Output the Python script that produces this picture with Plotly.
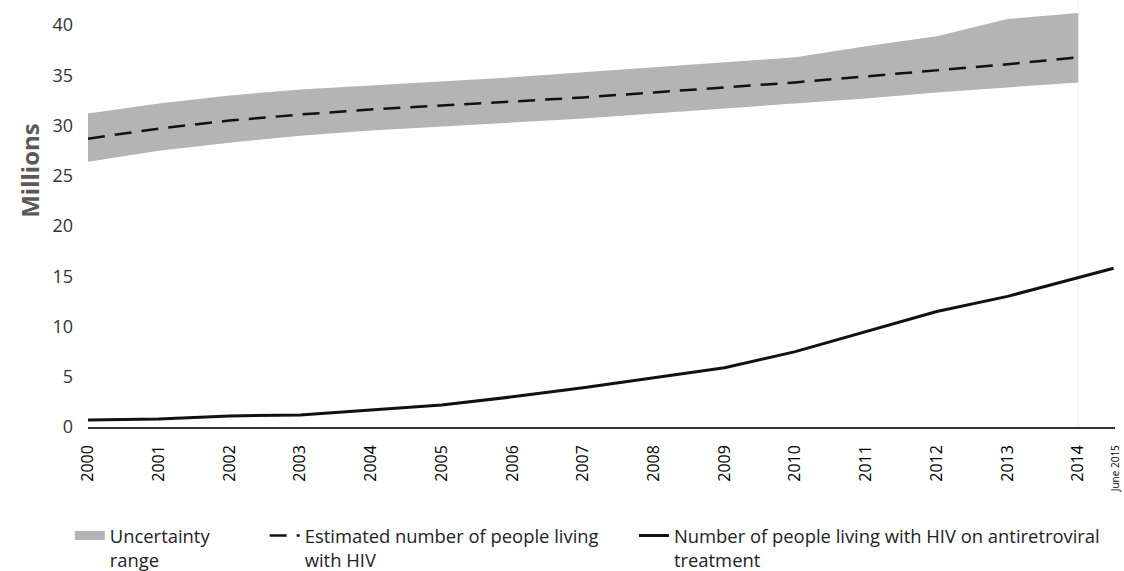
import plotly.graph_objects as go

years = [2000, 2001, 2002, 2003, 2004, 2005, 2006, 2007, 2008, 2009, 2010, 2011, 2012, 2013, 2014]
upper = [31.2, 32.2, 33.0, 33.6, 34.0, 34.4, 34.8, 35.3, 35.8, 36.3, 36.8, 37.9, 38.9, 40.6, 41.2]
estimate = [28.7, 29.7, 30.5, 31.1, 31.6, 32.0, 32.4, 32.8, 33.3, 33.8, 34.3, 34.9, 35.5, 36.1, 36.8]
lower = [26.4, 27.5, 28.3, 29.0, 29.5, 29.9, 30.3, 30.7, 31.2, 31.7, 32.2, 32.7, 33.3, 33.8, 34.3]

art_x = [2000, 2001, 2002, 2003, 2004, 2005, 2006, 2007, 2008, 2009, 2010, 2011, 2012, 2013, 2014, 2014.5]
art = [0.7, 0.8, 1.1, 1.2, 1.7, 2.2, 3.0, 3.9, 4.9, 5.9, 7.5, 9.5, 11.5, 13.0, 14.9, 15.8]

tick_vals = [2000, 2001, 2002, 2003, 2004, 2005, 2006, 2007, 2008, 2009, 2010, 2011, 2012, 2013, 2014, 2014.5]
tick_text = [str(y) for y in range(2000, 2015)] + ["<span style='font-size:10px'>June 2015</span>"]

band_color = "rgb(180,180,180)"

fig = go.Figure()
fig.add_trace(go.Scatter(x=years, y=lower, mode="lines", line=dict(width=0, color=band_color),
                         showlegend=False, hoverinfo="skip"))
fig.add_trace(go.Scatter(x=years, y=upper, mode="lines", line=dict(width=0, color=band_color),
                         fill="tonexty", fillcolor=band_color, showlegend=False, hoverinfo="skip"))
fig.add_trace(go.Scatter(x=years, y=estimate, mode="lines",
                         line=dict(color="#111111", width=2.5, dash="17px,10px"),
                         name="Estimated number of people living<br>with HIV", legend="legend2"))
fig.add_trace(go.Scatter(x=art_x, y=art, mode="lines",
                         line=dict(color="#111111", width=3),
                         name="Number of people living with HIV on antiretroviral<br>treatment", legend="legend3"))
# legend-only entry for the band
fig.add_trace(go.Scatter(x=[None], y=[None], mode="lines",
                         line=dict(color=band_color, width=9),
                         name="Uncertainty<br>range", legend="legend"))

legend_font = dict(family="Open Sans, sans-serif", size=18.4, color="#222222")
common = dict(orientation="h", xref="container", yref="container", yanchor="top",
              y=0.0945, xanchor="left",
              font=legend_font, bgcolor="rgba(0,0,0,0)", itemwidth=30,
              tracegroupgap=0, valign="top")

fig.update_layout(
    width=1124, height=571,
    margin=dict(l=88, r=9, t=2, b=144, autoexpand=False),
    plot_bgcolor="white", paper_bgcolor="white",
    xaxis=dict(range=[2000, 2014.52], tickmode="array", tickvals=tick_vals, ticktext=tick_text,
               tickangle=-90, showgrid=False, zeroline=False, showline=True, automargin=False,
               linecolor="#333333", linewidth=1.5, ticks="", ticklabelstandoff=10,
               tickfont=dict(family="Open Sans, sans-serif", size=16, color="#000000")),
    yaxis=dict(range=[0, 42.3], tickvals=[0, 5, 10, 15, 20, 25, 30, 35, 40],
               showgrid=False, zeroline=False, showline=False, ticks="", automargin=False,
               ticklabelstandoff=14,
               tickfont=dict(family="Open Sans, sans-serif", size=18, color="#333333")),
    legend=dict(x=0.0621, **common),
    legend2=dict(x=0.2355, **common),
    legend3=dict(x=0.564, **common),
    shapes=[dict(type="line", xref="x", yref="paper", x0=2014, x1=2014, y0=0, y1=1,
                 line=dict(color="#eeeeee", width=1), layer="below")],
    annotations=[dict(text="<b>Millions</b>", textangle=-90, xref="paper", yref="y",
                      x=-0.0565, y=25.6, xanchor="center", yanchor="middle", showarrow=False,
                      font=dict(family="Open Sans, sans-serif", size=24, color="#595959"))],
)

fig.write_html("out.html", config={"displayModeBar": False},
               post_script="document.body.style.margin='0';document.body.style.overflow='hidden';")
